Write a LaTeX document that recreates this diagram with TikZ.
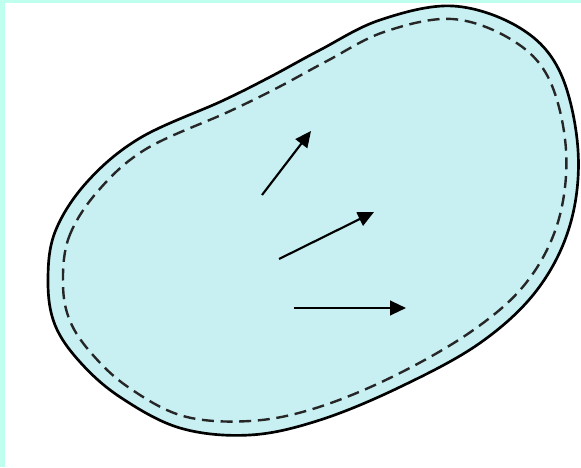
\documentclass[tikz,border=0pt]{standalone}
\usepackage{tikz}
\usetikzlibrary{arrows.meta}

\definecolor{beanfill}{RGB}{200,240,243}
\definecolor{edgecyan}{RGB}{190,255,238}

\begin{document}
\begin{tikzpicture}[x=0.75pt, y=-0.75pt,
  outline/.style={line width=2pt, black},
  innerline/.style={line width=1.8pt, black!85, dash pattern=on 9pt off 5pt},
  flow/.style={line width=1.6pt, -{Triangle[length=12pt, width=11pt]}}]
% Page and edge strips
\useasboundingbox (0,0) rectangle (581,467);
\fill[white] (0,0) rectangle (581,467);
\fill[edgecyan] (0,0) rectangle (5,467);
\fill[edgecyan] (0,0) rectangle (581,3);

% Body outline
\draw[outline, fill=beanfill] plot[smooth cycle, tension=0.6] coordinates {
  (48,282) (55,232) (87,182) (140,138) (222,101) (270,77) (320,50)
  (380,20) (453,6) (520,28) (560,72) (578,150) (570,225) (537,290)
  (480,343) (400,387) (320,420) (250,435) (180,428) (120,397) (80,362)
  (55,325)};

% Inner dashed outline
\draw[innerline] plot[smooth cycle, tension=0.6] coordinates {
  (63,284) (69,237) (98,191) (146,149) (228,112) (277,88) (327,61)
  (384,32) (452,19) (512,40) (549,79) (566,150) (558,222) (526,283)
  (472,331) (394,376) (316,408) (250,421) (183,416) (128,387) (92,354)
  (70,321)};

% Arrows
\coordinate (t1) at (262,195);
\coordinate (h1) at (311,131);
\coordinate (t2) at (279,259);
\coordinate (h2) at (374,212);
\coordinate (t3) at (294,308);
\coordinate (h3) at (406,308);

\draw[flow] (t1) -- (h1);
\draw[flow] (t2) -- (h2);
\draw[flow] (t3) -- (h3);

\end{tikzpicture}
\end{document}
